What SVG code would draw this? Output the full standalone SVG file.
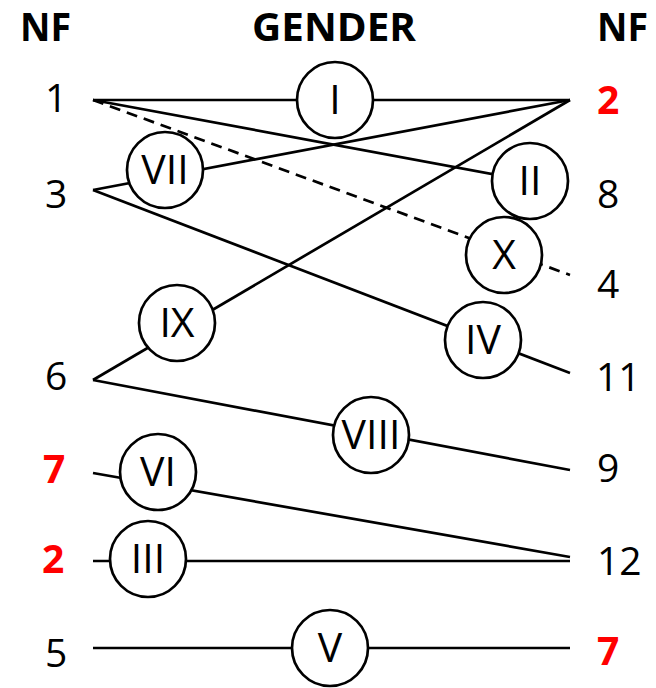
<svg xmlns="http://www.w3.org/2000/svg" width="656" height="688" viewBox="0 0 656 688">
<style>
.ln{stroke:#000;stroke-width:2.7;fill:none}
.dash{stroke-dasharray:11 7}
.nd circle{fill:#fff;stroke:#000;stroke-width:2.7}
.nd text{font-family:"Open Sans","DejaVu Sans",sans-serif;font-size:41px;text-anchor:middle;fill:#000}
.hd{font-family:"Open Sans","DejaVu Sans",sans-serif;font-size:39px;font-weight:bold;fill:#000}
.num{font-family:"Open Sans","DejaVu Sans",sans-serif;font-size:39px;fill:#000}
.red{fill:#ff0000;font-weight:bold}
</style>
<rect width="656" height="688" fill="#fff"/>
<g id="headers">
<text class="hd" x="20" y="41" textLength="51" lengthAdjust="spacingAndGlyphs">NF</text>
<text class="hd" x="252" y="41" textLength="164" lengthAdjust="spacingAndGlyphs">GENDER</text>
<text class="hd" x="597" y="41" textLength="51" lengthAdjust="spacingAndGlyphs">NF</text>
</g>
<g id="left-labels">
<text class="num" x="45" y="112">1</text>
<text class="num" x="45" y="208">3</text>
<text class="num" x="45" y="390">6</text>
<text class="num red" x="43" y="483">7</text>
<text class="num red" x="42" y="573">2</text>
<text class="num" x="45" y="667">5</text>
</g>
<g id="right-labels">
<text class="num red" x="597" y="114">2</text>
<text class="num" x="597" y="208">8</text>
<text class="num" x="597" y="298">4</text>
<text class="num" x="596" y="391">11</text>
<text class="num" x="597" y="482">9</text>
<text class="num" x="597" y="575">12</text>
<text class="num red" x="597" y="665">7</text>
</g>
<g id="connectors">
<line class="ln" x1="93" y1="100" x2="570" y2="100"/>
<line class="ln" x1="93" y1="100" x2="530" y2="181"/>
<line class="ln dash" x1="93" y1="100" x2="570" y2="275"/>
<line class="ln" x1="93" y1="190" x2="570" y2="100"/>
<line class="ln" x1="93" y1="190" x2="570" y2="373"/>
<line class="ln" x1="93" y1="380" x2="570" y2="100"/>
<line class="ln" x1="93" y1="380" x2="570" y2="470"/>
<line class="ln" x1="93" y1="473" x2="570" y2="557"/>
<line class="ln" x1="93" y1="561" x2="570" y2="561"/>
<line class="ln" x1="93" y1="648" x2="570" y2="648"/>
</g>
<g id="node-I" class="nd"><circle cx="335" cy="100" r="38"/><text x="335" y="114">I</text></g>
<g id="node-II" class="nd"><circle cx="530" cy="181" r="38"/><text x="530" y="195">II</text></g>
<g id="node-III" class="nd"><circle cx="148" cy="559" r="38"/><text x="148" y="573">III</text></g>
<g id="node-IV" class="nd"><circle cx="483" cy="340" r="38"/><text x="483" y="354">IV</text></g>
<g id="node-V" class="nd"><circle cx="330" cy="648" r="38"/><text x="330" y="662">V</text></g>
<g id="node-VI" class="nd"><circle cx="158" cy="472" r="38"/><text x="158" y="486">VI</text></g>
<g id="node-VII" class="nd"><circle cx="165" cy="170" r="38"/><text x="165" y="184">VII</text></g>
<g id="node-VIII" class="nd"><circle cx="371" cy="435" r="38"/><text x="371" y="449">VIII</text></g>
<g id="node-IX" class="nd"><circle cx="177" cy="323" r="38"/><text x="177" y="337">IX</text></g>
<g id="node-X" class="nd"><circle cx="504" cy="255" r="38"/><text x="504" y="269">X</text></g>
</svg>
